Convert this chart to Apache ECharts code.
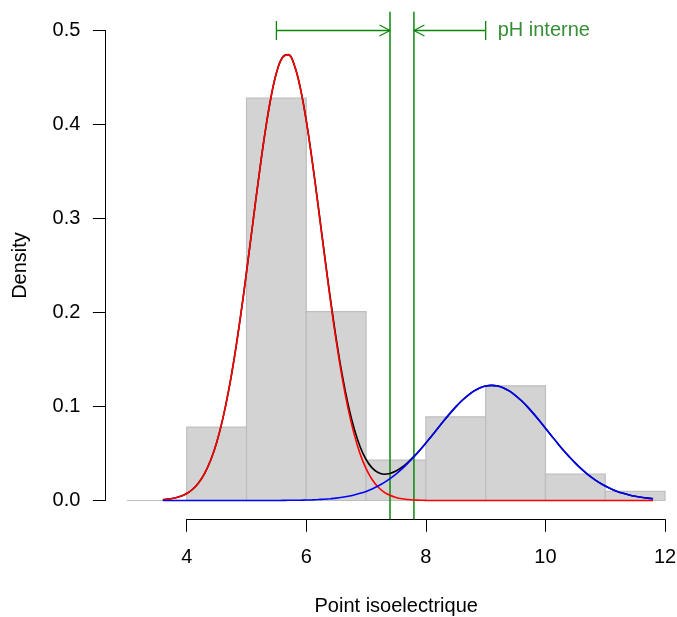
<!DOCTYPE html>
<html>
<head>
<meta charset="utf-8">
<script src="https://cdn.jsdelivr.net/npm/echarts@6/dist/echarts.min.js"></script>
<style>
  html, body { margin: 0; padding: 0; background: #fff; }
  #chart { width: 677px; height: 617px; }
</style>
</head>
<body>
<div id="chart"></div>
<script>
// histogram (density scale), bins of width 1
const binEdges = [3, 4, 5, 6, 7, 8, 9, 10, 11, 12]
const binDensity = [0, 0.078, 0.428, 0.201, 0.043, 0.089, 0.122, 0.028, 0.0098]

// fitted densities, x = 3.6 .. 11.8
const curveX = [3.6, 3.7, 3.8, 3.9, 4.0, 4.1, 4.2, 4.3, 4.4, 4.5, 4.6, 4.7, 4.8, 4.9,
  5.0, 5.1, 5.2, 5.3, 5.4, 5.5, 5.6, 5.7, 5.8, 5.9, 6.0, 6.1, 6.2, 6.3, 6.4, 6.5,
  6.6, 6.7, 6.8, 6.9, 7.0, 7.1, 7.2, 7.3, 7.4, 7.5, 7.6, 7.7, 7.8, 7.9, 8.0, 8.1,
  8.2, 8.3, 8.4, 8.5, 8.6, 8.7, 8.8, 8.9, 9.0, 9.1, 9.2, 9.3, 9.4, 9.5, 9.6, 9.7,
  9.8, 9.9, 10.0, 10.1, 10.2, 10.3, 10.4, 10.5, 10.6, 10.7, 10.8, 10.9, 11.0, 11.1,
  11.2, 11.3, 11.4, 11.5, 11.6, 11.7, 11.8]
const redDensity = [0.0008, 0.0015, 0.0026, 0.0044, 0.0074, 0.0120, 0.0189, 0.0288, 0.0428, 0.0615, 0.0860, 0.1166, 0.1534, 0.1959,
  0.2429, 0.2923, 0.3414, 0.3870, 0.4258, 0.4547, 0.4712, 0.4741, 0.4629, 0.4387, 0.4035, 0.3602, 0.3121, 0.2625, 0.2143, 0.1698,
  0.1305, 0.0974, 0.0706, 0.0496, 0.0339, 0.0224, 0.0144, 0.0090, 0.0055, 0.0032, 0.0018, 0.0010, 0.0005, 0.0003, 0.0001, 0,
  0, 0, 0, 0, 0, 0, 0, 0, 0, 0, 0, 0, 0, 0, 0, 0,
  0, 0, 0, 0, 0, 0, 0, 0, 0, 0, 0, 0, 0, 0,
  0, 0, 0, 0, 0, 0, 0]
const blueDensity = [0, 0, 0, 0, 0, 0, 0, 0, 0, 0, 0, 0, 0, 0,
  0, 0, 0, 0, 0, 0, 0.0001, 0.0002, 0.0002, 0.0003, 0.0005, 0.0007, 0.0010, 0.0014, 0.0019, 0.0025,
  0.0034, 0.0045, 0.0059, 0.0076, 0.0097, 0.0123, 0.0154, 0.0190, 0.0233, 0.0281, 0.0336, 0.0397, 0.0464, 0.0535, 0.0611, 0.0690,
  0.0769, 0.0848, 0.0924, 0.0996, 0.1061, 0.1117, 0.1163, 0.1197, 0.1218, 0.1225, 0.1218, 0.1197, 0.1163, 0.1117, 0.1061, 0.0996,
  0.0924, 0.0848, 0.0769, 0.0690, 0.0611, 0.0535, 0.0464, 0.0397, 0.0336, 0.0281, 0.0233, 0.0190, 0.0154, 0.0123,
  0.0097, 0.0076, 0.0059, 0.0045, 0.0034, 0.0025, 0.0019]
const mixDensity = [0.0008, 0.0015, 0.0026, 0.0044, 0.0074, 0.0120, 0.0189, 0.0288, 0.0428, 0.0615, 0.0860, 0.1166, 0.1534, 0.1959,
  0.2429, 0.2923, 0.3414, 0.3870, 0.4258, 0.4547, 0.4713, 0.4743, 0.4631, 0.4390, 0.4040, 0.3609, 0.3131, 0.2639, 0.2162, 0.1723,
  0.1339, 0.1019, 0.0765, 0.0572, 0.0436, 0.0347, 0.0298, 0.0280, 0.0288, 0.0313, 0.0354, 0.0407, 0.0469, 0.0538, 0.0612, 0.0690,
  0.0769, 0.0848, 0.0924, 0.0996, 0.1061, 0.1117, 0.1163, 0.1197, 0.1218, 0.1225, 0.1218, 0.1197, 0.1163, 0.1117, 0.1061, 0.0996,
  0.0924, 0.0848, 0.0769, 0.0690, 0.0611, 0.0535, 0.0464, 0.0397, 0.0336, 0.0281, 0.0233, 0.0190, 0.0154, 0.0123,
  0.0097, 0.0076, 0.0059, 0.0045, 0.0034, 0.0025, 0.0019]

// pH interne marks
const phLines = [7.4, 7.8]
const arrowFrom = [5.5, 9.0]
const arrowTo = [7.4, 7.8]
const arrowY = 0.5
const phLabel = 'pH interne'

const xTicks = [4, 12, 2]      // min, max, step
const yTicks = [0, 0.5, 0.1]

const FONT = 'Liberation Sans, Arial, Helvetica, sans-serif'
const GREEN = '#0B860B'
const GREEN_TEXT = '#037003'

const chart = echarts.init(document.getElementById('chart'), null, { renderer: 'canvas' })

function pairs(ys) {
  return curveX.map(function(x, i) { return [x, ys[i]] })
}

function curve(name, ys, color) {
  return {
    name: name,
    type: 'line',
    xAxisIndex: 0,
    yAxisIndex: 0,
    data: pairs(ys),
    smooth: 0.4,
    showSymbol: false,
    symbol: 'none',
    lineStyle: { color: color, width: 1.6 },
    silent: true
  }
}

const hidden = { show: false }

chart.setOption({
  animation: false,
  backgroundColor: '#fff',
  textStyle: { fontFamily: FONT },
  grid: [
    // plot region, cut at the right edge of the picture
    { left: 105.4, top: 11.7, width: 571.6, height: 507.6, outerBoundsMode: 'none', containLabel: false },
    // x axis strip
    { left: 186.7, top: 419.3, width: 478.3, height: 100, outerBoundsMode: 'none', containLabel: false },
    // y axis strip
    { left: 105.4, top: 30.5, width: 100, height: 470, outerBoundsMode: 'none', containLabel: false }
  ],
  xAxis: [
    {
      gridIndex: 0, type: 'value', min: 2.64, max: 12.2,
      axisLine: hidden, axisTick: hidden, axisLabel: hidden, splitLine: hidden,
      name: 'Point isoelectrique', nameLocation: 'middle', nameGap: 77,
      nameTextStyle: { fontSize: 20, color: '#000', fontFamily: FONT, padding: [0, 0, 0, 10] }
    },
    {
      gridIndex: 1, type: 'value', min: xTicks[0], max: xTicks[1], interval: xTicks[2],
      axisLine: { lineStyle: { color: '#000', width: 1 } },
      axisTick: { length: 12.5, lineStyle: { color: '#000', width: 1 } },
      axisLabel: { margin: 28, fontSize: 20, color: '#000', fontFamily: FONT },
      splitLine: hidden
    },
    { gridIndex: 2, type: 'value', show: false }
  ],
  yAxis: [
    {
      gridIndex: 0, type: 'value', min: -0.02, max: 0.52,
      axisLine: hidden, axisTick: hidden, axisLabel: hidden, splitLine: hidden,
      name: 'Density', nameLocation: 'middle', nameGap: 75,
      nameTextStyle: { fontSize: 20, color: '#000', fontFamily: FONT }
    },
    { gridIndex: 1, type: 'value', show: false },
    {
      gridIndex: 2, type: 'value', min: yTicks[0], max: yTicks[1], interval: yTicks[2],
      axisLine: { show: true, lineStyle: { color: '#000', width: 1 } },
      axisTick: { show: true, length: 12.5, lineStyle: { color: '#000', width: 1 } },
      axisLabel: {
        margin: 25, fontSize: 20, color: '#000', fontFamily: FONT,
        formatter: function(v) { return v.toFixed(1) }
      },
      splitLine: hidden
    }
  ],
  series: [
    {
      name: 'hist',
      type: 'custom',
      xAxisIndex: 0,
      yAxisIndex: 0,
      silent: true,
      data: binDensity.map(function(d, i) { return [binEdges[i], binEdges[i + 1], d] }),
      renderItem: function(params, api) {
        const p0 = api.coord([api.value(0), api.value(2)])
        const p1 = api.coord([api.value(1), 0])
        return {
          type: 'rect',
          shape: { x: p0[0], y: p0[1], width: p1[0] - p0[0], height: p1[1] - p0[1] },
          style: { fill: '#D3D3D3', stroke: '#BEBEBE', lineWidth: 1.2 }
        }
      }
    },
    curve('mixture', mixDensity, '#000'),
    curve('comp1', redDensity, '#FF0000'),
    curve('comp2', blueDensity, '#0000FF'),
    {
      name: 'ph lines',
      type: 'custom',
      xAxisIndex: 0,
      yAxisIndex: 0,
      silent: true,
      data: phLines.map(function(v) { return [v] }),
      renderItem: function(params, api) {
        const x = api.coord([api.value(0), 0])[0]
        const cs = params.coordSys
        return {
          type: 'line',
          shape: { x1: x, y1: cs.y, x2: x, y2: cs.y + cs.height },
          style: { stroke: GREEN, lineWidth: 1.5 }
        }
      }
    },
    {
      name: 'arrows',
      type: 'custom',
      xAxisIndex: 0,
      yAxisIndex: 0,
      silent: true,
      data: arrowFrom.map(function(f, i) { return [f, arrowTo[i], arrowY] }),
      renderItem: function(params, api) {
        const a = api.coord([api.value(0), api.value(2)])
        const b = api.coord([api.value(1), api.value(2)])
        const dir = b[0] > a[0] ? 1 : -1
        const st = { stroke: GREEN, lineWidth: 1.3 }
        return {
          type: 'group',
          children: [
            { type: 'line', shape: { x1: a[0], y1: a[1], x2: b[0], y2: b[1] }, style: st },
            { type: 'line', shape: { x1: a[0], y1: a[1] - 9.5, x2: a[0], y2: a[1] + 9.5 }, style: st },
            { type: 'line', shape: { x1: b[0] - dir * 10.5, y1: b[1] - 5.5, x2: b[0], y2: b[1] }, style: st },
            { type: 'line', shape: { x1: b[0] - dir * 10.5, y1: b[1] + 5.5, x2: b[0], y2: b[1] }, style: st }
          ]
        }
      }
    },
    {
      name: 'label',
      type: 'scatter',
      xAxisIndex: 0,
      yAxisIndex: 0,
      silent: true,
      symbolSize: 0,
      data: [[arrowFrom[1], arrowY]],
      label: {
        show: true,
        position: 'right',
        distance: 12,
        formatter: phLabel,
        fontSize: 20,
        color: GREEN_TEXT,
        fontFamily: FONT
      }
    }
  ]
})
</script>
</body>
</html>
